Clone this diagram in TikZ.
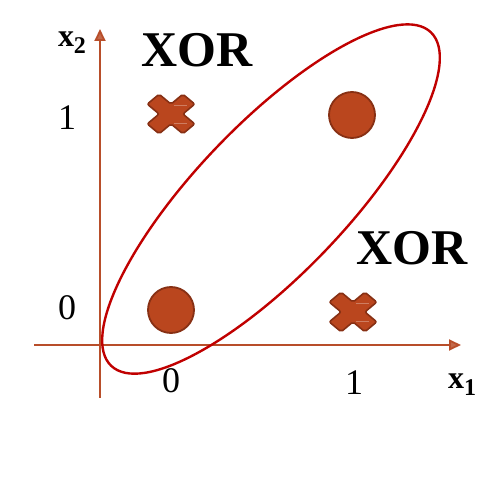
\documentclass[tikz,border=0pt]{standalone}
\usepackage{fontspec}
\setmainfont{Liberation Serif}
\usetikzlibrary{arrows.meta}
\definecolor{axisc}{RGB}{184,78,42}
\definecolor{dotfill}{RGB}{186,70,30}
\definecolor{dotline}{RGB}{135,48,20}
\definecolor{ellc}{RGB}{192,0,0}
\tikzset{
  axisline/.style={draw=axisc, line width=1.8pt, -{Triangle[width=11pt,length=12pt,fill=axisc!85!white]}},
  dot/.style={circle, minimum size=46pt, inner sep=0pt, fill=dotfill, draw=dotline, line width=1.8pt},
  xorlbl/.style={font=\fontsize{50}{50}\selectfont\bfseries, inner sep=0pt},
  tick/.style={font=\fontsize{36}{36}\selectfont, inner sep=0pt},
  axlbl/.style={font=\fontsize{32}{32}\selectfont\bfseries, inner sep=0pt},
  pics/xmark/.style={code={
    \draw[fill=dotfill, draw=dotline, line width=1.6pt, rounded corners=2pt, xscale=1.2, rotate=45]
      (7,21) -- (7,7) -- (21,7) -- (21,-7) -- (7,-7) -- (7,-21) -- (-7,-21) -- (-7,-7)
      -- (-21,-7) -- (-21,7) -- (-7,7) -- (-7,21) -- cycle;
    \draw[white, opacity=0.3, line width=0.7pt] (3,9) -- (16,9) (3,-9) -- (16,-9);
  }}
}
\begin{document}
\begin{tikzpicture}[x=1pt,y=1pt]
\useasboundingbox (0,0) rectangle (499,483);
% axes
\coordinate (ybot) at (100,85);
\coordinate (ytop) at (100,454);
\coordinate (xleft) at (34,138);
\coordinate (xright) at (461,138);
\draw[axisline] (ybot) -- (ytop);
\draw[axisline] (xleft) -- (xright);
% points
\node[dot] (c00) at (171,173) {};
\node[dot] (c11) at (352,368) {};
\coordinate (x01) at (171,369);
\coordinate (x10) at (353,171);
\pic at (x01) {xmark};
\pic at (x10) {xmark};
% ellipse
\coordinate (ec) at (271,284);
\draw[draw=ellc, line width=2.4pt, rotate around={46.2:(ec)}] (ec) ellipse [x radius=231, y radius=75];
% labels
\node[xorlbl] (xor1) at (197,433) {XOR};
\node[xorlbl] (xor2) at (412,235) {XOR};
\node[tick] (y1) at (67,365) {1};
\node[tick] (y0) at (67,175) {0};
\node[tick] (t0) at (171,102) {0};
\node[tick] (t1) at (354,100) {1};
\node[axlbl] (lx2) at (72,440) {x\raisebox{-7pt}{\fontsize{24}{24}\selectfont 2}};
\node[axlbl] (lx1) at (462,98) {x\raisebox{-7pt}{\fontsize{24}{24}\selectfont 1}};
\end{tikzpicture}
\end{document}
